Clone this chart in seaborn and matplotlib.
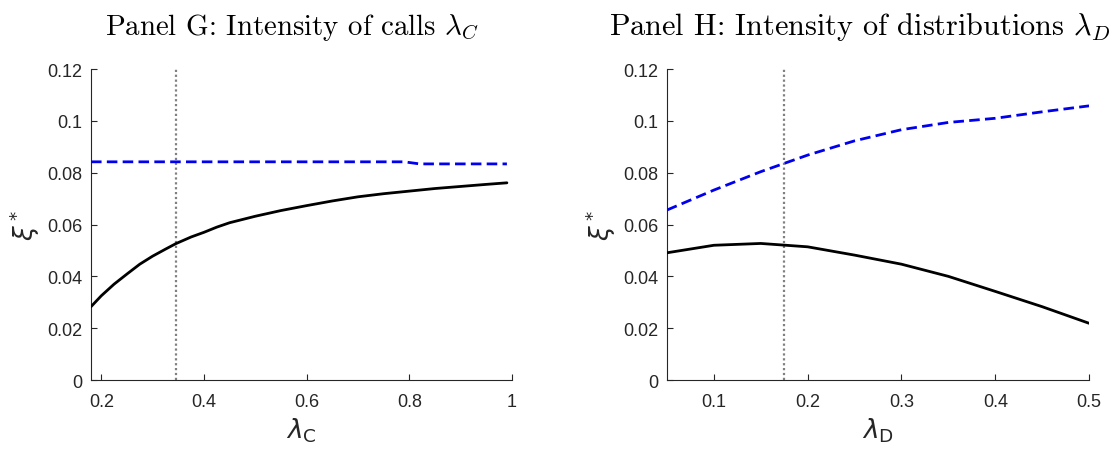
import matplotlib
matplotlib.use("Agg")
import matplotlib.pyplot as plt
import seaborn as sns
import pandas as pd

# ---- data ----
lamC = [0.18, 0.20, 0.225, 0.25, 0.275, 0.30, 0.325, 0.345, 0.375, 0.40, 0.425, 0.45, 0.50, 0.55, 0.60, 0.65, 0.70, 0.75, 0.80, 0.85, 0.90, 0.95, 0.99]
xiC_black = [0.0283, 0.0325, 0.0370, 0.0409, 0.0447, 0.0478, 0.0505, 0.0526, 0.0552, 0.0570, 0.0590, 0.0607, 0.0632, 0.0654, 0.0673, 0.0691, 0.0707, 0.0719, 0.0729, 0.0739, 0.0747, 0.0755, 0.0761]
lamC_blue = [0.18, 0.30, 0.40, 0.50, 0.60, 0.70, 0.79, 0.82, 0.90, 0.99]
xiC_blue = [0.0842, 0.0842, 0.0842, 0.0842, 0.0842, 0.0842, 0.0842, 0.0834, 0.0834, 0.0834]
lamC_ref = 0.345

lamD = [0.05, 0.10, 0.15, 0.20, 0.25, 0.30, 0.35, 0.40, 0.45, 0.50]
xiD_black = [0.0491, 0.0520, 0.0527, 0.0514, 0.0482, 0.0447, 0.0400, 0.0342, 0.0283, 0.0219]
xiD_blue = [0.0656, 0.0733, 0.0804, 0.0868, 0.0923, 0.0966, 0.0994, 0.1010, 0.1035, 0.1058]
lamD_ref = 0.175

yticks = [0, 0.02, 0.04, 0.06, 0.08, 0.10, 0.12]
ytick_labels = ["0", "0.02", "0.04", "0.06", "0.08", "0.1", "0.12"]
xticksC = [0.2, 0.4, 0.6, 0.8, 1.0]
xtick_labelsC = ["0.2", "0.4", "0.6", "0.8", "1"]
xticksD = [0.1, 0.2, 0.3, 0.4, 0.5]
xtick_labelsD = ["0.1", "0.2", "0.3", "0.4", "0.5"]

titles = [r"Panel G: Intensity of calls $\lambda_C$", r"Panel H: Intensity of distributions $\lambda_D$"]
xlabels = [r"$\lambda_\mathsf{C}$", r"$\lambda_\mathsf{D}$"]

sns.set_style("white")
plt.rcParams["font.family"] = ["Liberation Sans", "DejaVu Sans"]

dfC_k = pd.DataFrame({"x": lamC, "y": xiC_black})
dfC_b = pd.DataFrame({"x": lamC_blue, "y": xiC_blue})
dfD_k = pd.DataFrame({"x": lamD, "y": xiD_black})
dfD_b = pd.DataFrame({"x": lamD, "y": xiD_blue})

fig = plt.figure(figsize=(11.18, 4.60), dpi=100)
axL = fig.add_axes([0.0814, 0.1717, 0.3766, 0.676])
axR = fig.add_axes([0.5966, 0.1717, 0.3775, 0.676])

dark = "#262626"
title_x = [0.478, 0.457]
title_fs = [20.8, 21.8]
panels = [
    (axL, dfC_k, dfC_b, lamC_ref, (0.18, 1.0), xticksC, xtick_labelsC),
    (axR, dfD_k, dfD_b, lamD_ref, (0.05, 0.5), xticksD, xtick_labelsD),
]
for i, (ax, dk, db, xref, xlim, xt, xtl) in enumerate(panels):
    ax.axvline(xref, color="#808080", lw=1.6, ls=(0, (1, 1.2)), zorder=1)
    sns.lineplot(data=db, x="x", y="y", ax=ax, color="#0000ee", lw=2.0, zorder=3)
    ax.lines[-1].set_dashes((3.8, 1.9))
    sns.lineplot(data=dk, x="x", y="y", ax=ax, color="black", lw=2.0, zorder=3)
    ax.set_xlim(*xlim)
    ax.set_ylim(0, 0.12)
    ax.set_yticks(yticks)
    ax.set_yticklabels(ytick_labels)
    ax.set_xticks(xt)
    ax.set_xticklabels(xtl)
    ax.tick_params(bottom=True, left=True, top=False, right=False,
                   direction="in", length=4, width=0.8, colors=dark, labelsize=13, pad=6)
    ax.tick_params(axis="x", pad=9)
    for s in ["top", "right"]:
        ax.spines[s].set_visible(False)
    for s in ["left", "bottom"]:
        ax.spines[s].set_color(dark)
        ax.spines[s].set_linewidth(0.8)
    ax.set_xlabel(xlabels[i], fontsize=19, color=dark, labelpad=4, math_fontfamily="dejavusans")
    ax.set_ylabel(r"$\xi^*$", fontsize=19, color=dark, labelpad=4, math_fontfamily="dejavusans")
    ax.set_title(titles[i], fontsize=title_fs[i], family="cmr10", math_fontfamily="cm",
                 pad=25, color="black", x=title_x[i])

fig.savefig("out.png", dpi=100)
